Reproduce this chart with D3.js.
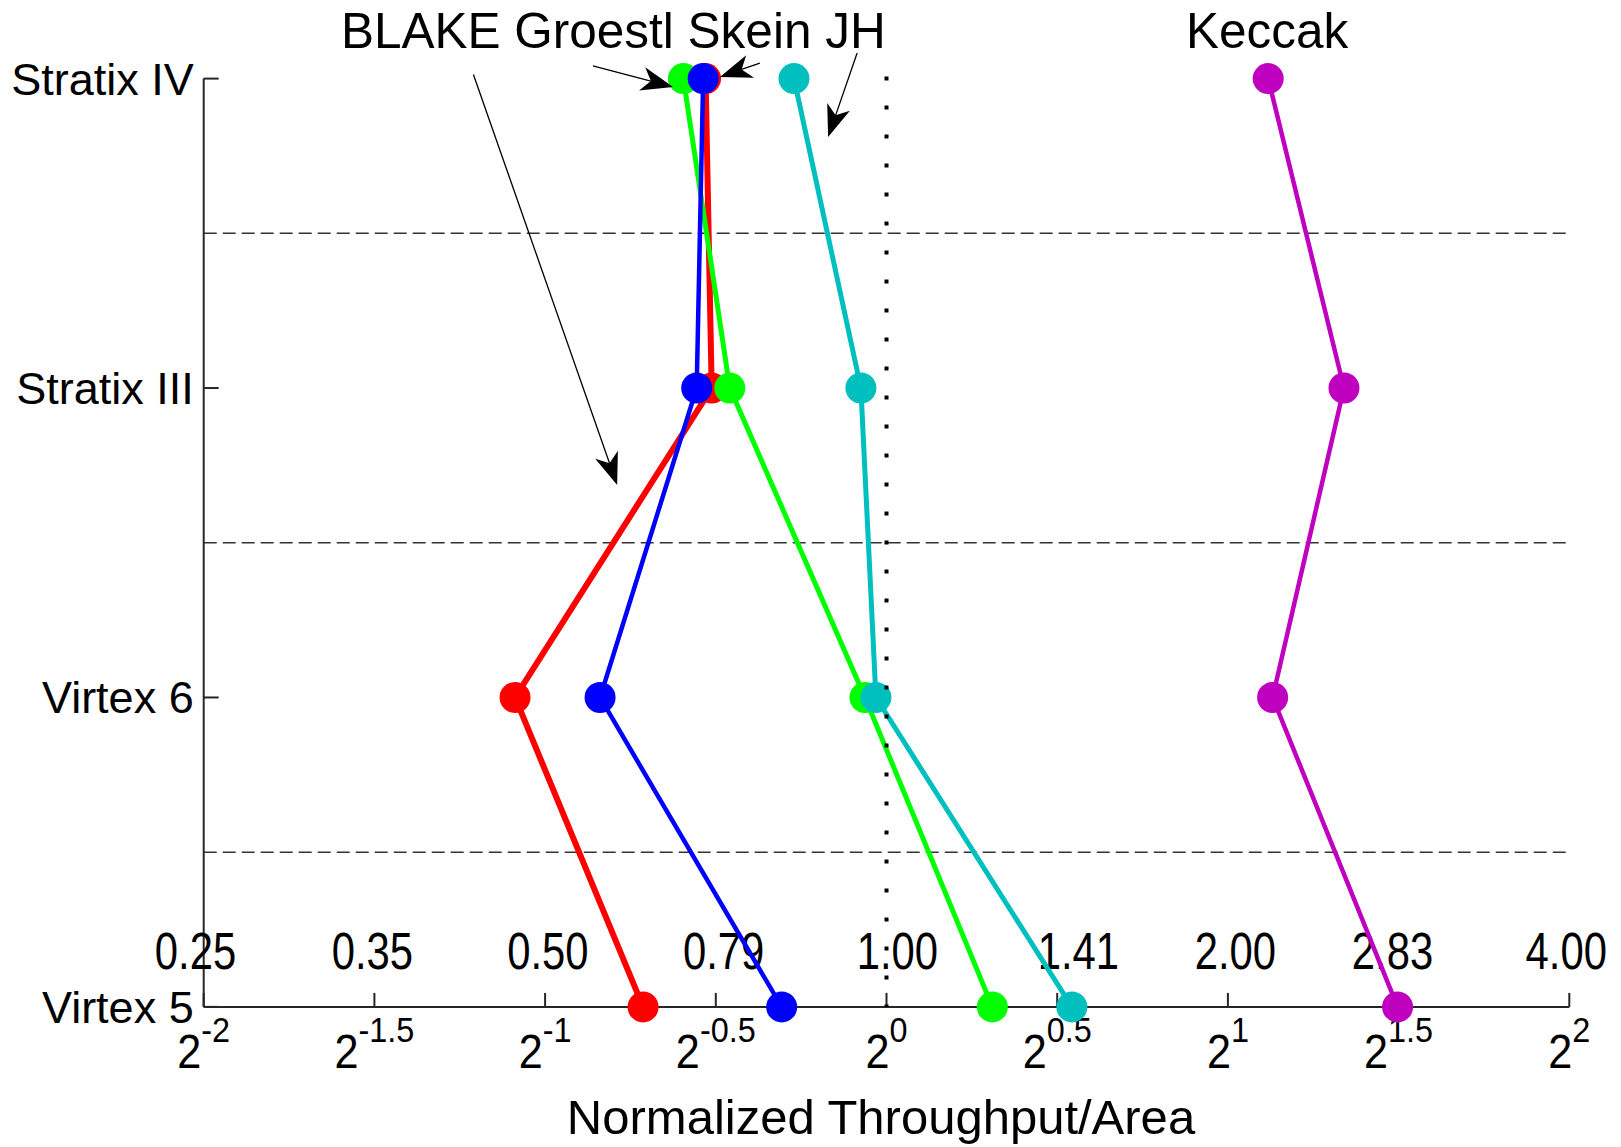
<!DOCTYPE html>
<html>
<head>
<meta charset="utf-8">
<script src="https://cdn.jsdelivr.net/npm/d3@7"></script>
<style>
  body { margin: 0; background: #fff; }
  svg { display: block; }
</style>
</head>
<body>
<script>
// platforms from top to bottom, values are log2 of normalized throughput/area
const platforms = ["Stratix IV", "Stratix III", "Virtex 6", "Virtex 5"]
const blake   = [-0.530, -0.512, -1.088, -0.713]
const groestl = [-0.595, -0.459, -0.063, 0.310]
const skein   = [-0.537, -0.556, -0.839, -0.307]
const jh      = [-0.271, -0.075, -0.031, 0.543]
const keccak  = [1.118, 1.340, 1.131, 1.497]

const xTicks = [-2, -1.5, -1, -0.5, 0, 0.5, 1, 1.5, 2]
const tickExps = ["-2", "-1.5", "-1", "-0.5", "0", "0.5", "1", "1.5", "2"]
const valueLabels = ["0.25", "0.35", "0.50", "0.79", "1.00", "1.41", "2.00", "2.83", "4.00"]
const valueLabelAt = [-2.024, -1.506, -0.992, -0.477, 0.032, 0.562, 1.022, 1.482, 1.991]

function setattrs(shape, dict) {
    for (let [prop, val] of Object.entries(dict)) {
        shape.attr(prop, val)
    }
}

const W = 1621, H = 1147
const svg = d3.select("body").append("svg")
setattrs(svg, {"width": W, "height": H})

const x = d3.scaleLinear().domain([-2, 2]).range([203.7, 1569.3])
const yi = d3.scaleLinear().domain([0, platforms.length - 1]).range([78.6, 1006.9])
const y = (p) => yi(platforms.indexOf(p))

const font = "'Liberation Sans', Arial, Helvetica, sans-serif"
const axisColor = "#262626"

// dashed separators between platforms
for (let i = 0; i < platforms.length - 1; i++) {
    const line = svg.append("line")
    setattrs(line, {
        "x1": x(-2), "x2": x(2), "y1": yi(i + 0.5), "y2": yi(i + 0.5),
        "stroke": "#333", "stroke-width": 1.6, "stroke-dasharray": "13,6"
    })
}

// axes
setattrs(svg.append("line"), {
    "x1": x(-2), "x2": x(-2), "y1": yi(0), "y2": yi(3),
    "stroke": axisColor, "stroke-width": 2
})
setattrs(svg.append("line"), {
    "x1": x(-2), "x2": x(2), "y1": yi(3), "y2": yi(3),
    "stroke": axisColor, "stroke-width": 2
})

for (let p of platforms) {
    setattrs(svg.append("line"), {
        "x1": x(-2), "x2": x(-2) + 15, "y1": y(p), "y2": y(p),
        "stroke": axisColor, "stroke-width": 2
    })
    const t = svg.append("text").text(p)
    setattrs(t, {
        "x": x(-2) - 10, "y": y(p) + 16, "text-anchor": "end",
        "font-family": font, "font-size": 45, "fill": "#000"
    })
}

// tick labels are rendered condensed like the original
xTicks.forEach((v, i) => {
    setattrs(svg.append("line"), {
        "x1": x(v), "x2": x(v), "y1": yi(3), "y2": yi(3) - 14,
        "stroke": axisColor, "stroke-width": 2
    })
    const t = svg.append("text")
    setattrs(t, {
        "transform": `translate(${x(v)},1068) scale(0.9,1)`,
        "text-anchor": "middle", "font-family": font, "fill": "#000"
    })
    t.append("tspan").text("2").attr("font-size", 48)
    t.append("tspan").text(tickExps[i]).attr("font-size", 36).attr("dy", -26)

    const lab = svg.append("text").text(valueLabels[i])
    setattrs(lab, {
        "transform": `translate(${x(valueLabelAt[i])},969) scale(0.82,1)`,
        "text-anchor": "middle", "font-family": font,
        "font-size": 51, "fill": "#000"
    })
})

const xl = svg.append("text").text("Normalized Throughput/Area")
setattrs(xl, {
    "x": 881, "y": 1134, "text-anchor": "middle",
    "font-family": font, "font-size": 49, "fill": "#000"
})

// series: line then markers, drawn in this order
const series = [
    {name: "BLAKE", values: blake, color: "#ff0000", width: 6},
    {name: "Groestl", values: groestl, color: "#00ff00", width: 5},
    {name: "Skein", values: skein, color: "#0000ff", width: 4.5},
    {name: "JH", values: jh, color: "#00bfbf", width: 5},
    {name: "Keccak", values: keccak, color: "#bf00bf", width: 4.5}
]

const line = d3.line().x(d => x(d[1])).y(d => y(d[0]))

for (let s of series) {
    const pts = platforms.map((p, i) => [p, s.values[i]])
    const g = svg.append("g").attr("id", "series:" + s.name)
    setattrs(g.append("path").datum(pts), {
        "d": line, "fill": "none", "stroke": s.color,
        "stroke-width": s.width, "stroke-linejoin": "round"
    })
    g.selectAll("circle").data(pts).join("circle")
        .attr("cx", d => x(d[1]))
        .attr("cy", d => y(d[0]))
        .attr("r", 15.5)
        .attr("fill", s.color)
}

// dotted reference at 2^0
setattrs(svg.append("line"), {
    "x1": x(0), "x2": x(0), "y1": yi(0) - 2, "y2": yi(3),
    "stroke": "#000", "stroke-width": 4, "stroke-dasharray": "4,25"
})

// labels and arrows (positions in log2 / platform-index units)
const labels = [
    {text: "BLAKE Groestl Skein JH", at: -1.598},
    {text: "Keccak", at: 0.877}
]
for (let l of labels) {
    const t = svg.append("text").text(l.text)
    setattrs(t, {
        "x": x(l.at), "y": yi(-0.1), "font-family": font,
        "font-size": 49.5, "fill": "#000"
    })
}

const arrows = [
    {from: [-1.210, -0.013], to: [-0.789, 1.313]},
    {from: [-0.860, -0.041], to: [-0.625, 0.027]},
    {from: [-0.371, -0.050], to: [-0.488, -0.005]},
    {from: [-0.086, -0.083], to: [-0.171, 0.189]}
]
for (let a of arrows) {
    const x0 = x(a.from[0]), y0 = yi(a.from[1])
    const x1 = x(a.to[0]), y1 = yi(a.to[1])
    const len = Math.hypot(x1 - x0, y1 - y0)
    const ux = (x1 - x0) / len, uy = (y1 - y0) / len
    const nx = -uy, ny = ux
    const L = 32, N = 23, hw = 12
    setattrs(svg.append("line"), {
        "x1": x0, "y1": y0, "x2": x1 - ux * N, "y2": y1 - uy * N,
        "stroke": "#000", "stroke-width": 1.3
    })
    const head = [
        [x1, y1],
        [x1 - ux * L + nx * hw, y1 - uy * L + ny * hw],
        [x1 - ux * N, y1 - uy * N],
        [x1 - ux * L - nx * hw, y1 - uy * L - ny * hw]
    ]
    setattrs(svg.append("path"), {
        "d": "M" + head.map(p => p.join(",")).join("L") + "Z",
        "fill": "#000"
    })
}
</script>
</body>
</html>
